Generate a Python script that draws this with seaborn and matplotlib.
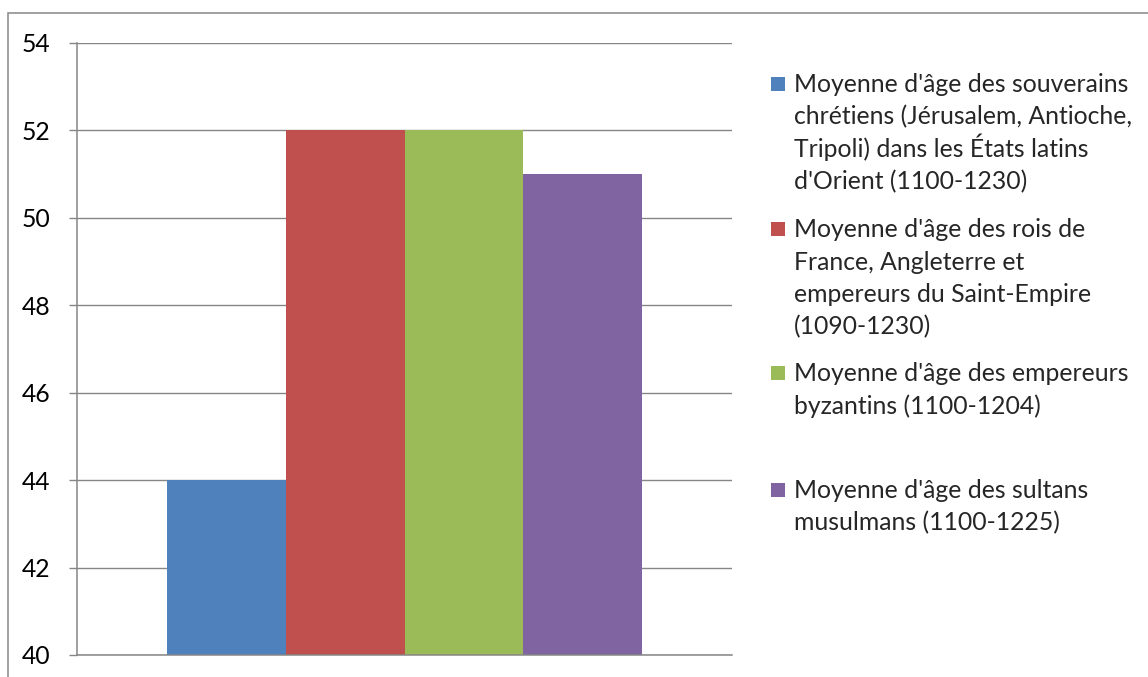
import matplotlib
matplotlib.use("Agg")
import matplotlib.pyplot as plt
import matplotlib.patches as mpatches
import pandas as pd
import seaborn as sns

# chart data
series = [
    "Moyenne d'âge des souverains\nchrétiens (Jérusalem, Antioche,\nTripoli) dans les États latins\nd'Orient (1100-1230)",
    "Moyenne d'âge des rois de\nFrance, Angleterre et\nempereurs du Saint-Empire\n(1090-1230)",
    "Moyenne d'âge des empereurs\nbyzantins (1100-1204)",
    "Moyenne d'âge des sultans\nmusulmans (1100-1225)",
]
ages = [44, 52, 52, 51]
colors = ["#4F81BD", "#C0504D", "#9BBB59", "#8064A2"]
yticks = [40, 42, 44, 46, 48, 50, 52, 54]

W, H = 1148, 677
GRAY = "#868686"
FONT = "Lato"
FS = 17.8
LINE_STEP = 32.5

sns.set_style("white")
plt.rcParams['font.family'] = [FONT, 'DejaVu Sans']

df = pd.DataFrame({"groupe": [""] * len(ages), "age": ages, "serie": series})

fig = plt.figure(figsize=(W / 100, H / 100), dpi=100)
ax = fig.add_axes([77 / W, 1 - 655 / H, (732 - 77) / W, (655 - 43) / H])

sns.barplot(data=df, x="groupe", y="age", hue="serie", palette=colors,
            width=0.724, saturation=1, linewidth=0, legend=False, ax=ax)

ax.set_ylim(40, 54)
ax.set_yticks(yticks)
ax.set_xlim(-0.5, 0.5)
ax.set_xticks([])
ax.set_xlabel("")
ax.set_ylabel("")
ax.grid(axis="y", color=GRAY, linewidth=1.0)
ax.set_axisbelow(True)
for s in ["top", "right"]:
    ax.spines[s].set_visible(False)
for s in ["left", "bottom"]:
    ax.spines[s].set_color(GRAY)
    ax.spines[s].set_linewidth(1.1)
ax.tick_params(axis="y", direction="out", length=6, width=1.0, color=GRAY,
               pad=13, labelsize=FS, left=True)
for t in ax.get_yticklabels():
    t.set_color("black")

# legend drawn like the spreadsheet one: square aligned with first line,
# every wrapped line on a regular step
first_line = [84, 229, 373, 490]
for lab, col, yc in zip(series, colors, first_line):
    fig.patches.append(mpatches.Rectangle(
        (771 / W, 1 - (yc + 7) / H), 14 / W, 14 / H,
        transform=fig.transFigure, facecolor=col, edgecolor="none"))
    for i, line in enumerate(lab.split("\n")):
        fig.text(794 / W, 1 - (yc + 8 + i * LINE_STEP) / H, line,
                 fontsize=FS, va="baseline", ha="left")

# outer chart border
fig.patches.append(mpatches.Rectangle(
    (8 / W, -0.1), 1.2, 1 - 13 / H + 0.1, transform=fig.transFigure,
    facecolor="none", edgecolor=GRAY, linewidth=1.1))

fig.savefig("out.png", dpi=100)
